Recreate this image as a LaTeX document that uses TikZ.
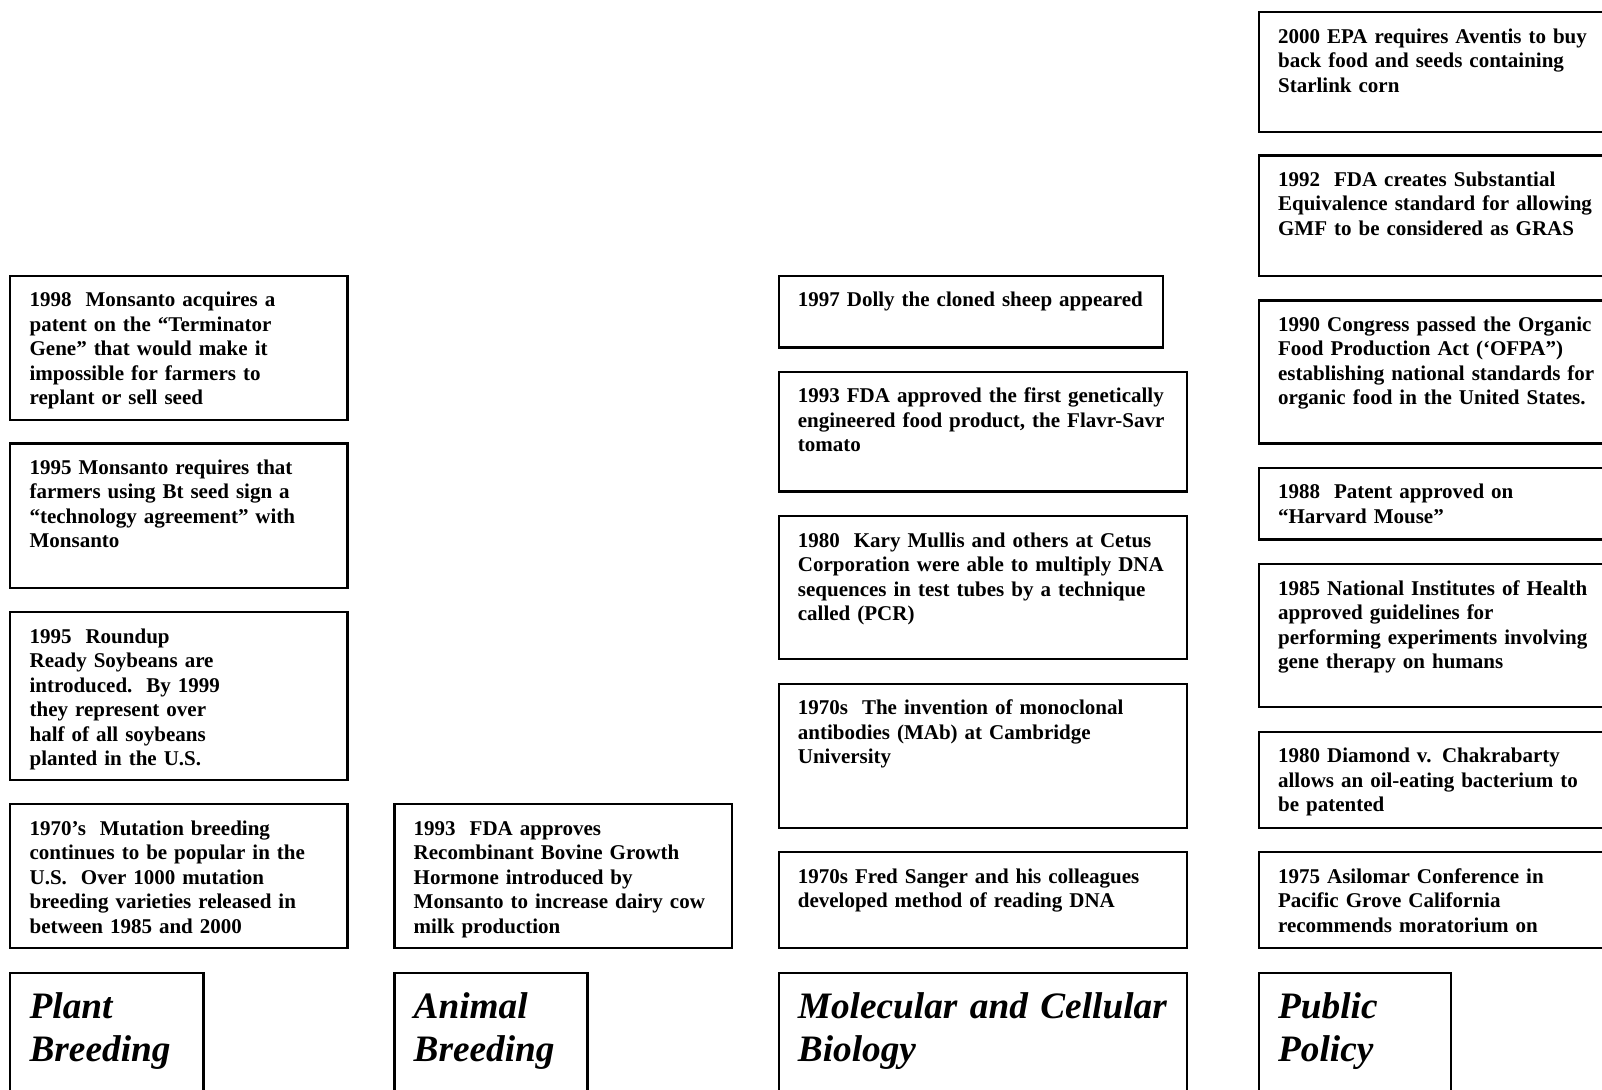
\documentclass[tikz,border=0pt]{standalone}
\usepackage{fontspec}
\setmainfont{Liberation Serif}
\usetikzlibrary{calc}
\tikzset{
  bx/.style={draw, line width=1.1pt, rectangle, inner sep=0pt, anchor=north west},
  tx/.style={anchor=base west, inner sep=0pt, text width=200pt, align=left,
             font=\fontsize{10.5pt}{12.25pt}\selectfont\bfseries},
  hx/.style={anchor=base west, inner sep=0pt, text width=240pt, align=left,
             font=\fontsize{18.65pt}{21.5pt}\selectfont\bfseries\itshape},
}
% name, left, top, right, bottom, text style, baseline offset, text
\newcommand\evbox[8]{%
  \node[bx, minimum width={(#4-#2)*0.5pt}, minimum height={(#5-#3)*0.5pt}] (#1) at (#2,#3) {};
  \node[#6] (#1t) at ($(#1.north west)+(20,#7)$) {#8};
}
\begin{document}
\begin{tikzpicture}[x=0.5pt,y=-0.5pt]
\useasboundingbox (0,0) rectangle (1602,1089);
\clip (0,0) rectangle (1602,1089);
\fill[white] (0,0) rectangle (1602,1089);

% Plant Breeding column
\evbox{p1}{9.2}{274.8}{346.4}{418.9}{tx}{32}{1998\ \ Monsanto acquires a\\ patent on the “Terminator\\ Gene” that would make it\\ impossible for farmers to\\ replant or sell seed}
\evbox{p2}{9.2}{442.4}{346.4}{586.5}{tx}{32}{1995 Monsanto requires that\\ farmers using Bt seed sign a\\ “technology agreement” with\\ Monsanto}
\evbox{p3}{9.2}{611}{346.4}{778.5}{tx}{32}{1995\ \ Roundup\\ Ready Soybeans are\\ introduced.\ \ By 1999\\ they represent over\\ half of all soybeans\\ planted in the U.S.}
\evbox{p4}{9.2}{803}{346.4}{947}{tx}{32}{1970’s\ \ Mutation breeding\\ continues to be popular in the\\ U.S.\ \ Over 1000 mutation\\ breeding varieties released in\\ between 1985 and 2000}
\evbox{ph}{9.2}{971.6}{202.3}{1120}{hx}{47}{Plant\\ Breeding}

% Animal Breeding column
\evbox{a1}{393.3}{803}{730.5}{947}{tx}{32}{1993\ \ FDA approves\\ Recombinant Bovine Growth\\ Hormone introduced by\\ Monsanto to increase dairy cow\\ milk production}
\evbox{ah}{393.3}{971.6}{586.4}{1120}{hx}{47}{Animal\\ Breeding}

% Molecular and Cellular Biology column
\evbox{m1}{777.5}{274.8}{1161.6}{346.4}{tx}{32}{1997 Dolly the cloned sheep appeared}
\evbox{m2}{777.5}{370.9}{1186.2}{490.4}{tx}{32}{1993 FDA approved the first genetically\\ engineered food product, the Flavr-Savr\\ tomato}
\evbox{m3}{777.5}{515}{1186.2}{658}{tx}{32}{1980\ \ Kary Mullis and others at Cetus\\ Corporation were able to multiply DNA\\ sequences in test tubes by a technique\\ called (PCR)}
\evbox{m4}{777.5}{682.5}{1186.2}{826.5}{tx}{32}{1970s\ \ The invention of monoclonal\\ antibodies (MAb) at Cambridge\\ University}
\evbox{m5}{777.5}{851}{1186.2}{947}{tx}{32}{1970s Fred Sanger and his colleagues\\ developed method of reading DNA}
\evbox{mh}{777.5}{971.6}{1186.2}{1120}{hx}{47}{Molecular and Cellular\\ Biology}

% Public Policy column
\evbox{q1}{1257.7}{11.2}{1625}{130.8}{tx}{32}{2000 EPA requires Aventis to buy\\ back food and seeds containing\\ Starlink corn}
\evbox{q2}{1257.7}{154.3}{1625}{274.8}{tx}{32}{1992\ \ FDA creates Substantial\\ Equivalence standard for allowing\\ GMF to be considered as GRAS}
\evbox{q3}{1257.7}{299.4}{1625}{442.4}{tx}{32}{1990 Congress passed the Organic\\ Food Production Act (‘OFPA”)\\ establishing national standards for\\ organic food in the United States.}
\evbox{q4}{1257.7}{466.9}{1625}{538.4}{tx}{32}{1988\ \ Patent approved on\\ “Harvard Mouse”}
\evbox{q5}{1257.7}{563}{1625}{706}{tx}{32}{1985 National Institutes of Health\\ approved guidelines for\\ performing experiments involving\\ gene therapy on humans}
\evbox{q6}{1257.7}{730.5}{1625}{826.5}{tx}{32}{1980 Diamond v. Chakrabarty\\ allows an oil-eating bacterium to\\ be patented}
\evbox{q7}{1257.7}{851}{1625}{947}{tx}{32}{1975 Asilomar Conference in\\ Pacific Grove California\\ recommends moratorium on}
\evbox{qh}{1257.7}{971.6}{1449.8}{1120}{hx}{47}{Public\\ Policy}
\end{tikzpicture}
\end{document}
